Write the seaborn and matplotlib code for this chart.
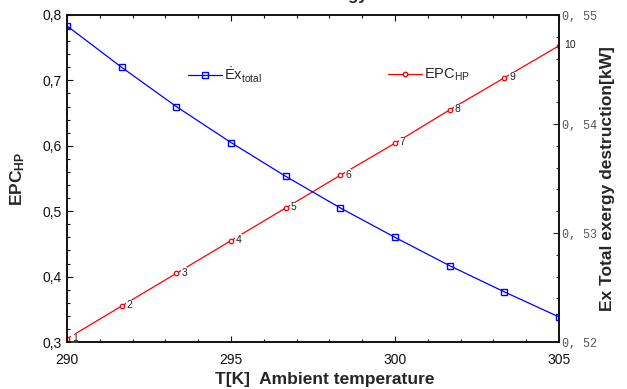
import matplotlib
matplotlib.use("Agg")
import matplotlib.pyplot as plt
import pandas as pd
import seaborn as sns
from matplotlib.ticker import MultipleLocator, FuncFormatter
from matplotlib.lines import Line2D

# Ambient temperature [K] for the ten operating points
temperature = [290.0, 291.667, 293.333, 295.0, 296.667, 298.333, 300.0, 301.667, 303.333, 305.0]
# Exergetic performance coefficient of the heat pump (left axis)
epc_hp = [0.305, 0.355, 0.405, 0.455, 0.505, 0.555, 0.604, 0.655, 0.704, 0.753]
# Total exergy destruction rate [kW] (right axis)
ex_total = [0.5490, 0.5452, 0.5416, 0.5383, 0.5352, 0.5323, 0.5296, 0.5270, 0.5246, 0.5223]
# Operating point numbers written beside the EPC markers
point_labels = ["1", "2", "3", "4", "5", "6", "7", "8", "9", "10"]

df = pd.DataFrame({"T": temperature, "EPC": epc_hp, "Ex": ex_total})

sns.set_style("ticks")
plt.rcParams["font.family"] = ["Liberation Sans", "DejaVu Sans"]
plt.rcParams["mathtext.fontset"] = "custom"
plt.rcParams["mathtext.rm"] = "Liberation Sans"
plt.rcParams["mathtext.it"] = "Liberation Sans:italic"
plt.rcParams["mathtext.bf"] = "Liberation Sans:bold"

W, H = 627, 389
fig = plt.figure(figsize=(W / 100, H / 100), dpi=100)
left, right, top, bottom = 67, 559, 15, 342
ax = fig.add_axes([left / W, 1 - bottom / H, (right - left) / W, (bottom - top) / H])
ax2 = ax.twinx()

red, blue = "#ff0000", "#0000ff"

sns.lineplot(data=df, x="T", y="EPC", ax=ax, color=red, linewidth=0.9,
             marker="o", markersize=3.2, markerfacecolor="white",
             markeredgecolor=red, markeredgewidth=0.9, legend=False)
sns.lineplot(data=df, x="T", y="Ex", ax=ax2, color=blue, linewidth=0.9,
             marker="s", markersize=4.5, markerfacecolor="none",
             markeredgecolor=blue, markeredgewidth=1.0, legend=False)

for t, v, lab in zip(temperature, epc_hp, point_labels):
    ax.annotate(lab, (t, v), xytext=(3.5, 0.5), textcoords="offset points",
                ha="left", va="center", fontsize=7.5, color="#222222",
                bbox=dict(boxstyle="square,pad=0.05", fc="white", ec="none"))

# Axis ranges and ticks
ax.set_xlim(290, 305)
ax.set_ylim(0.3, 0.8)
ax2.set_ylim(0.52, 0.55)
ax.xaxis.set_major_locator(MultipleLocator(5))
ax.xaxis.set_minor_locator(MultipleLocator(1))
ax.yaxis.set_major_locator(MultipleLocator(0.1))
ax.yaxis.set_minor_locator(MultipleLocator(0.02))
ax2.yaxis.set_major_locator(MultipleLocator(0.01))
ax2.yaxis.set_minor_locator(MultipleLocator(0.002))

ax.xaxis.set_major_formatter(FuncFormatter(lambda v, p: f"{v:.0f}"))
ax.yaxis.set_major_formatter(FuncFormatter(lambda v, p: f"{v:.1f}".replace(".", ",")))
ax2.yaxis.set_major_formatter(FuncFormatter(lambda v, p: f"{v:.2f}".replace(".", ", ")))

ax.tick_params(axis="x", which="both", direction="in", top=True, bottom=True,
               labelsize=10, pad=8, width=0.8, colors="#111111")
ax.tick_params(axis="y", which="both", direction="in", left=True, right=False,
               labelsize=10, pad=3.5, width=0.8, colors="#111111")
ax2.tick_params(axis="y", which="both", direction="in", right=True, left=False,
                labelsize=8.5, pad=2.5, width=0.8, labelcolor="#555555")
for a in (ax, ax2):
    a.tick_params(which="major", length=4)
    a.tick_params(which="minor", length=2.5)
    for s in a.spines.values():
        s.set_linewidth(1.2)
        s.set_color("#111111")
for t in ax2.get_yticklabels():
    t.set_fontfamily(["Liberation Mono", "DejaVu Sans Mono"])

# Axis titles
ax.set_xlabel("T[K]  Ambient temperature", fontsize=12.5, fontweight="bold")
ax.set_ylabel(r"$\mathbf{EPC}_{\mathbf{HP}}$", fontsize=12.5)
ax2.set_ylabel("Ex Total exergy destruction[kW]", fontsize=12.5, fontweight="bold")
ax.xaxis.set_label_coords(0.524, -0.092)
ax.yaxis.set_label_coords(-0.082, 0.5)
ax2.yaxis.set_label_coords(1.083, 0.5)

# Two separate legend entries inside the plot
h_ex = Line2D([], [], color=blue, linewidth=0.9, marker="s", markersize=4.5,
              markerfacecolor="none", markeredgecolor=blue)
h_epc = Line2D([], [], color=red, linewidth=0.9, marker="o", markersize=3.2,
               markerfacecolor="white", markeredgecolor=red)
leg_kw = dict(loc="center left", frameon=False, fontsize=10.5, handlelength=2.3,
              handletextpad=0.15, borderpad=0, borderaxespad=0,
              bbox_transform=fig.transFigure)
leg1 = ax2.legend([h_ex], [r"$\dot{\mathrm{E}}\mathrm{x}_{\mathrm{total}}$"],
                  bbox_to_anchor=(188 / W, 1 - 75 / H), **leg_kw)
ax2.add_artist(leg1)
ax2.legend([h_epc], [r"$\mathrm{EPC}_{\mathrm{HP}}$"],
           bbox_to_anchor=(388 / W, 1 - 75 / H), **leg_kw)

# Chart title sits above the top edge; only its descenders reach the canvas
fig.text(368 / W, 1.0, "Exergy", ha="right", va="baseline",
         fontsize=12, fontweight="bold")

fig.savefig("out.png", dpi=100, facecolor="white")
